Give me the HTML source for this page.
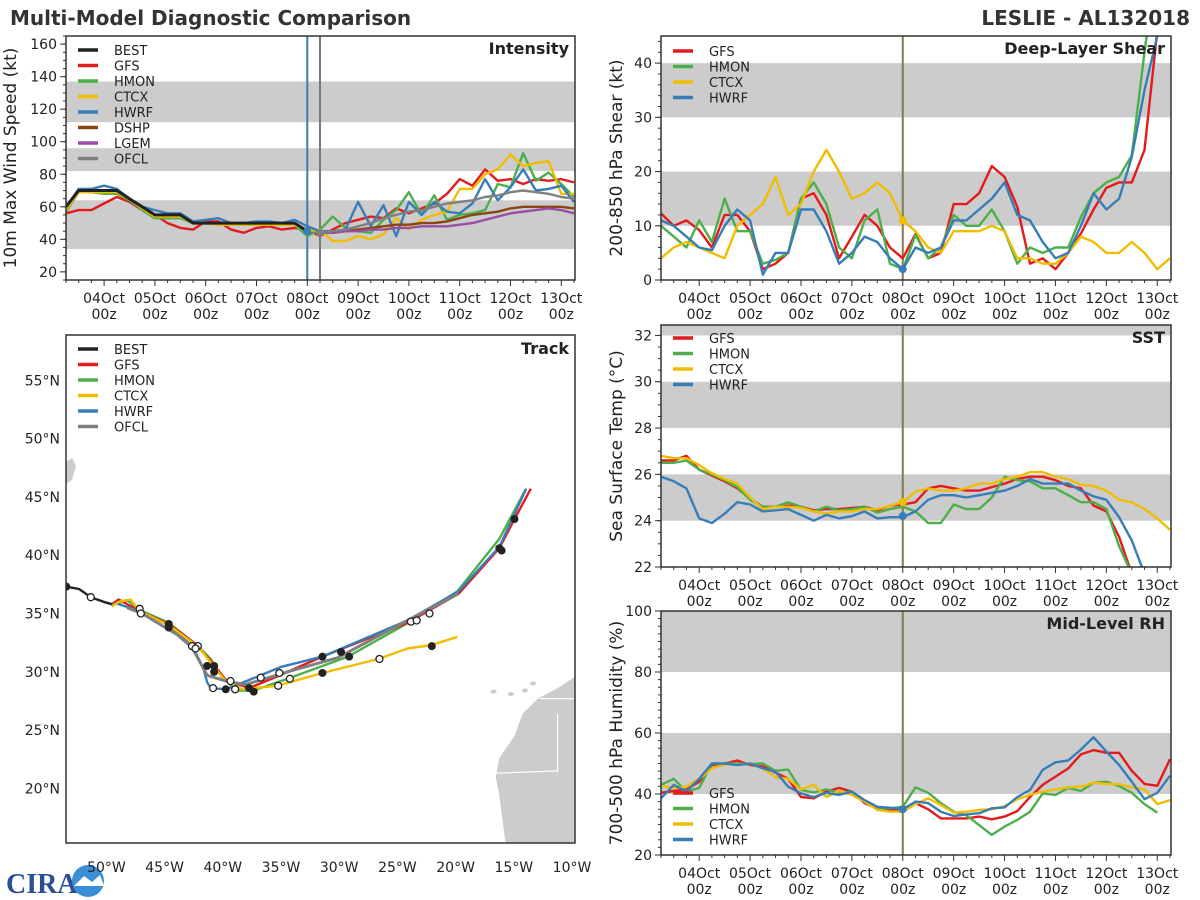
<!DOCTYPE html>
<html><head><meta charset="utf-8"><style>
html,body{margin:0;padding:0;background:#fff;}
svg{display:block;font-family:"DejaVu Sans","Liberation Sans",sans-serif;}
</style></head><body>
<svg id="root" width="1200" height="900" viewBox="0 0 1200 900" xmlns="http://www.w3.org/2000/svg">
<text x="10" y="25" font-size="20" font-weight="bold" fill="#333">Multi-Model Diagnostic Comparison</text>
<text x="1190" y="25" font-size="20" font-weight="bold" fill="#333" text-anchor="end">LESLIE - AL132018</text>
<g>
<text x="6" y="893" font-size="28" font-weight="bold" fill="#2a4f95" font-family="'Liberation Serif',serif">CIRA</text>
<circle cx="88" cy="881" r="16" fill="#3a8fd6"/>
<path d="M74 886 L84 876 L92 882 L100 875 L104 886 Z" fill="#fff"/>
</g>
</svg>
<script>
// ---------- time-series data (6-hourly, 03Oct 06z .. 13Oct 06z) ----------
const dayLabels = ["04Oct","05Oct","06Oct","07Oct","08Oct","09Oct","10Oct","11Oct","12Oct","13Oct"];
const intTicks = [20,40,60,80,100,120,140,160];
const shearTicks = [0,10,20,30,40];
const sstTicks = [22,24,26,28,30,32];
const rhTicks = [20,40,60,80,100];

const intBEST = [60,70,70,70,70,65,60,55,55,55,50,50,50,50,50,50,50,50,50,45];
const intGFS = [56,58,58,62,66,63,58,55,50,47,46,51,51,46,44,47,48,46,47,46,42,46,50,52,54,53,59,56,59,62,68,77,73,83,76,77,74,77,76,77,75];
const intHMON = [57,69,69,68,68,64,58,53,53,53,50,50,49,49,49,49,49,49,49,42,46,54,47,45,44,52,58,69,55,67,52,55,56,58,74,72,93,76,81,74,66];
const intCTCX = [58,69,69,69,69,65,59,54,54,54,50,50,49,49,49,49,49,49,49,45,46,39,39,42,40,43,53,46,52,55,57,71,71,80,83,92,85,87,88,68,68];
const intHWRF = [60,71,71,73,71,65,60,58,56,56,51,52,53,50,50,51,51,50,52,48,45,45,46,63,48,61,42,63,55,63,57,56,62,77,64,72,83,70,71,73,63];
const intDSHP = [null,null,null,null,null,null,null,null,null,null,null,null,null,null,null,null,null,null,null,null,44,44,45,46,47,48,49,49,50,50,51,53,55,56,57,59,60,60,60,60,59];
const intLGEM = [null,null,null,null,null,null,null,null,null,null,null,null,null,null,null,null,null,null,null,null,44,44,45,45,46,46,47,47,48,48,48,49,50,52,54,56,57,58,59,58,56];
const intOFCL = [null,null,null,null,null,null,null,null,null,null,null,null,null,null,null,null,null,null,null,null,44,45,46,48,50,53,55,57,58,60,62,63,64,66,67,69,70,69,68,66,65];

const shGFS = [12.3,10,11,9.2,6,12,12,9,2,3,5,15,16,12,4,8,12,10,6,4,8.5,4,5,14,14,16,21,19,13.5,3,4,2,5,8.6,13,17,18,18,24,46,60];
const shHMON = [10,8,6,11,7,15,9,9,3,3.7,5,15,18,14,6,4,11,13,3,2,8.3,4,6,12,10,10,13,9,3,6,5,6,6,11.6,16,18,19,23,42,60,70];
const shCTCX = [4,6,7,6,5,4,10,12,14,19,12,14,20,24,20,15,16,18,16,11,9,6,5,9,9,9,10,9,4,4,3,3,5,8,7,5,5,7,5,2,4];
const shHWRF = [11,10,8,6,5.5,10,13,11,1,5,5,13,13,9,3,5,8,7,4,2,6,5,6,11,11,13,15,18,12,11,7,4,5,10,16,13,15,22.7,35,45,60];

const sstGFS = [26.6,26.6,26.8,26.2,25.95,25.7,25.4,24.95,24.6,24.6,24.65,24.6,24.45,24.5,24.5,24.55,24.6,24.45,24.65,24.7,24.8,25.4,25.5,25.4,25.3,25.3,25.45,25.6,25.8,25.9,25.9,25.75,25.5,25.4,24.65,24.4,23.3,21.7];
const sstHMON = [26.5,26.5,26.6,26.2,26,25.75,25.45,24.9,24.6,24.6,24.8,24.6,24.4,24.6,24.45,24.5,24.6,24.35,24.5,24.6,24.4,23.9,23.9,24.7,24.5,24.5,25,25.9,25.75,25.7,25.4,25.4,25.1,24.8,24.8,24.5,22.9,21.7];
const sstCTCX = [26.8,26.7,26.7,26.4,26.05,25.8,25.6,25,24.5,24.6,24.6,24.55,24.4,24.3,24.4,24.4,24.5,24.5,24.65,24.8,25.25,25.4,25.3,25.3,25.4,25.6,25.6,25.8,25.9,26.1,26.1,25.9,25.8,25.55,25.5,25.3,24.9,24.8,24.5,24.1,23.6];
const sstHWRF = [25.9,25.7,25.4,24.1,23.9,24.3,24.8,24.7,24.4,24.45,24.5,24.25,24,24.25,24.1,24.2,24.4,24.1,24.15,24.15,24.4,24.9,25.1,25.1,25,25.1,25.2,25.3,25.5,25.8,25.6,25.6,25.6,25.3,25.05,24.9,24.15,23.15,21.7];

const rhGFS = [40.4,41,41.5,44,49.5,50,51,49.5,49,47,45,39,38.6,40.8,42,40.8,37,35.3,35,35,37,35,32,32,32,32.6,31.7,32.6,34.4,39,43,45.7,48.4,53,54.4,53.5,53.5,47.6,43.3,42.7,51.4];
const rhHMON = [43,45,40.8,42,50,50,50,49.8,50,47.6,48,41.3,40.5,41.5,40.4,40.8,37.5,35.3,35.3,35.8,42.2,40.4,37,34.2,33,29.8,26.6,29.3,31.5,34.2,40.2,39.7,42,41,43.7,44,42.6,40.4,36.7,33.9];
const rhCTCX = [42.6,42,42.4,45,48.4,49.7,49.7,50,48.4,45.5,45,41.5,43,39,41,39.7,37.5,34.8,34.2,34.2,36.7,38.6,36.4,33.9,34.2,34.8,35,36,38.3,39.7,40.8,41.5,42.2,42.4,43.7,43.3,43.2,42.2,41.5,36.7,38];
const rhHWRF = [38.6,43,40.8,45,50,50,49.5,50,48.4,47.3,42.4,40.2,39,40.4,39.7,40.8,38,35.8,35.5,35,37.5,37,34.2,32.8,33.3,33.7,35.3,35.6,39,41.3,47.9,50.4,51,54.6,58.6,53.9,49.5,44,38.3,40.4,46];

// ---------- track data (deg W, deg N) ----------
const trkBESTlon = [53.7,52.6,51.6,50.5,49.8];
const trkBESTlat = [37.3,37.1,36.4,36.0,35.8];
const trkGFSlon = [49.8,49.2,47.4,44.9,42.6,41.1,40.0,38.0,35.6,31.7,29.7,24.4,20.0,16.5,15.2,13.8];
const trkGFSlat = [35.8,36.2,35.2,34.1,32.4,30.7,29.3,28.6,29.6,31.3,32.1,34.2,36.7,40.6,43.1,45.7];
const trkHMONlon = [49.8,48.4,47.4,44.9,42.4,41.3,40.3,39.0,37.6,34.7,29.5,23.8,20.1,16.5,14.2];
const trkHMONlat = [35.8,36.1,35.3,34.2,32.2,31.1,29.5,28.4,28.4,29.4,31.3,34.5,36.9,41.4,45.7];
const trkHWRFlon = [49.8,49.5,47.4,44.9,42.8,41.9,41.6,41.3,40.0,38.0,35.3,31.7,24.4,20.0,16.5,14.2];
const trkHWRFlat = [35.6,35.9,35.2,34.0,32.1,30.2,29.1,28.6,28.5,29.3,30.4,31.3,34.4,36.9,40.7,45.7];
const trkCTCXlon = [49.8,49.2,48.2,47.4,44.9,42.3,41.0,40.0,38.6,35.6,31.7,26.9,24.4,22.3,20.1];
const trkCTCXlat = [35.6,36.0,36.2,35.2,34.0,32.1,30.4,29.2,28.5,28.8,29.9,31.1,32.0,32.3,33.0];
const trkOFCLlon = [48.5,47.2,44.2,42.9,41.6,40.0,38.3,34.7,30.4,24.4,20.0];
const trkOFCLlat = [35.5,35.0,33.2,32.1,29.7,29.2,28.9,30.0,31.2,34.4,36.7];
const mkFilledLon = [53.7,44.9,44.9,41.6,41.0,41.0,40.0,38.0,37.6,31.7,31.7,30.1,29.4,22.3,16.5,16.3,15.2];
const mkFilledLat = [37.3,34.1,33.8,30.5,30.5,30.0,28.5,28.6,28.3,31.3,29.9,31.7,31.3,32.2,40.6,40.4,43.1];
const mkOpenLon = [51.6,47.4,47.3,42.9,42.4,42.6,41.1,39.6,39.2,37.0,35.4,35.5,34.5,26.8,24.1,23.6,22.5];
const mkOpenLat = [36.4,35.4,35.0,32.2,32.2,32.0,28.6,29.2,28.5,29.5,29.9,28.8,29.4,31.1,34.3,34.4,35.0];
const trkLatTicks = [20,25,30,35,40,45,50,55];
const trkLonTicks = [50,45,40,35,30,25,20,15,10];

const C = {BEST:"#222222",GFS:"#e41a1c",HMON:"#4daf4a",CTCX:"#f0bd00",HWRF:"#377eb8",DSHP:"#8b4513",LGEM:"#984ea3",OFCL:"#808080"};
const NS = "http://www.w3.org/2000/svg";
const root = document.getElementById('root');
function el(tag, attrs, parent){ const e=document.createElementNS(NS,tag); for(const k in attrs) e.setAttribute(k,attrs[k]); (parent||root).appendChild(e); return e; }
let clipN=0;

function panel(P){
  const g = el('g',{});
  
  
  const X0=P.x0,X1=P.x1,Y0=P.y0,Y1=P.y1;
  const tx = t => X0 + (t - (-0.75)) / (10.02) * (X1-X0);
  const ty = v => Y1 - (v-P.ymin)/(P.ymax-P.ymin)*(Y1-Y0);
  el('rect',{x:X0,y:Y0,width:X1-X0,height:Y1-Y0,fill:'#fff'},g);
  const cid='c'+(clipN++);
  const cp=el('clipPath',{id:cid},g); el('rect',{x:X0,y:Y0,width:X1-X0,height:Y1-Y0},cp);
  const inner=el('g',{'clip-path':'url(#'+cid+')'},g);
  P.bands.forEach(b=>{
    const r=el('rect',{x:X0,y:ty(Math.min(b[1],P.ymax)),width:X1-X0,height:ty(Math.max(b[0],P.ymin))-ty(Math.min(b[1],P.ymax)),fill:'#cccccc'},inner);
    
    
  });
  P.vlines.forEach(v=>{
    const l=el('line',{x1:tx(v[0]),x2:tx(v[0]),y1:Y0,y2:Y1,stroke:v[1],'stroke-width':2},inner);
    
    
  });
  P.series.forEach(s=>{
    let d='',pen=false;
    s.data.forEach((v,i)=>{ if(v==null){pen=false;return;} const t=-0.75+i*0.25; d+=(pen?'L':'M')+tx(t).toFixed(1)+' '+ty(v).toFixed(1); pen=true; });
    const p=el('path',{d:d,fill:'none',stroke:C[s.key],'stroke-width':s.w||2.4,'stroke-linejoin':'round'},inner);
    
    
  });
  (P.dots||[]).forEach(dt=>{
    const c=el('circle',{cx:tx(dt[0]),cy:ty(dt[1]),r:4,fill:C[dt[2]]},inner);
    
    
  });
  el('rect',{x:X0,y:Y0,width:X1-X0,height:Y1-Y0,fill:'none',stroke:'#333','stroke-width':1.5},g);
  for(let i=0;i<=40;i++){ const t=-0.75+i*0.25; const x=tx(t); const major=Math.abs(t-Math.round(t))<1e-6;
    el('line',{x1:x,x2:x,y1:Y1,y2:Y1+(major?6:3),stroke:'#333','stroke-width':1},g); }
  dayLabels.forEach((lab,i)=>{ const x=tx(i);
    const a=el('text',{x:x,y:Y1+23,'font-size':14,'text-anchor':'middle',fill:'#222'},g); a.textContent=lab;
    
    
    const b=el('text',{x:x,y:Y1+39,'font-size':14,'text-anchor':'middle',fill:'#222'},g); b.textContent='00z';
    
    
  });
  for(let v=P.ymin-((P.ymin%P.minor)+P.minor)%P.minor; v<=P.ymax; v+=P.minor){ if(v<P.ymin) continue; el('line',{x1:X0-3,x2:X0,y1:ty(v),y2:ty(v),stroke:'#333'},g); }
  P.ticks.forEach(v=>{ el('line',{x1:X0-6,x2:X0,y1:ty(v),y2:ty(v),stroke:'#333'},g);
    const t=el('text',{x:X0-9,y:ty(v)+5,'font-size':14,'text-anchor':'end',fill:'#222'},g); t.textContent=v;
    
    
  });
  const yl=el('text',{x:0,y:0,'font-size':17,'text-anchor':'middle',fill:'#222',transform:'translate('+P.ylx+','+((Y0+Y1)/2)+') rotate(-90)'},g); yl.textContent=P.ylabel;
  
  
  const tt=el('text',{x:X1-6,y:Y0+18,'font-size':16,'font-weight':'bold','text-anchor':'end',fill:'#222'},g); tt.textContent=P.title;
  
  
  legend(g,X0,P.legY||Y0+14,P.legend);
}
function legend(g,X0,y,keys){
  const lg=el('g',{},g);
  
  
  keys.forEach((k,i)=>{ const yy=y+i*15.5;
    el('line',{x1:X0+12,x2:X0+32,y1:yy,y2:yy,stroke:C[k],'stroke-width':3.5},lg);
    const t=el('text',{x:X0+48,y:yy+5,'font-size':13,fill:'#222'},lg); t.textContent=k;
    
    
  });
}

panel({name:'intensity-panel',x0:66,x1:575,y0:36,y1:280,ymin:15,ymax:165,ticks:intTicks,minor:5,ylx:16,ylabel:'10m Max Wind Speed (kt)',title:'Intensity',
  bands:[[34,64],[82,96],[112,137]],vlines:[[4,'#377eb8'],[4.25,'#777']],
  series:[{key:'GFS',data:intGFS},{key:'HMON',data:intHMON},{key:'CTCX',data:intCTCX},{key:'HWRF',data:intHWRF},{key:'DSHP',data:intDSHP},{key:'LGEM',data:intLGEM},{key:'OFCL',data:intOFCL},{key:'BEST',data:intBEST,w:3}],
  dots:[[4,45,'HWRF'],[4.25,44,'OFCL']],
  legend:['BEST','GFS','HMON','CTCX','HWRF','DSHP','LGEM','OFCL'],legY:50});
panel({name:'shear-panel',x0:661,x1:1171,y0:36,y1:280,ymin:0,ymax:45,ticks:shearTicks,minor:2,ylx:622,ylabel:'200-850 hPa Shear (kt)',title:'Deep-Layer Shear',
  bands:[[10,20],[30,40]],vlines:[[4,'#857c4a']],
  series:[{key:'GFS',data:shGFS},{key:'HMON',data:shHMON},{key:'CTCX',data:shCTCX},{key:'HWRF',data:shHWRF}],
  dots:[[4,11,'CTCX'],[4,2,'HWRF']],legend:['GFS','HMON','CTCX','HWRF'],legY:51});
panel({name:'sst-panel',x0:661,x1:1171,y0:325,y1:567,ymin:22,ymax:32.45,ticks:sstTicks,minor:0.5,ylx:622,ylabel:'Sea Surface Temp (°C)',title:'SST',
  bands:[[24,26],[28,30],[32,40]],vlines:[[4,'#857c4a']],
  series:[{key:'GFS',data:sstGFS},{key:'HMON',data:sstHMON},{key:'CTCX',data:sstCTCX},{key:'HWRF',data:sstHWRF}],
  dots:[[4,24.8,'CTCX'],[4,24.2,'HWRF']],legend:['GFS','HMON','CTCX','HWRF'],legY:338});
panel({name:'rh-panel',x0:661,x1:1171,y0:611,y1:855,ymin:20,ymax:100,ticks:rhTicks,minor:2.5,ylx:622,ylabel:'700-500 hPa Humidity (%)',title:'Mid-Level RH',
  bands:[[40,60],[80,100]],vlines:[[4,'#857c4a']],
  series:[{key:'GFS',data:rhGFS},{key:'HMON',data:rhHMON},{key:'CTCX',data:rhCTCX},{key:'HWRF',data:rhHWRF}],
  dots:[[4,35,'HWRF']],legend:['GFS','HMON','CTCX','HWRF'],legY:793});

(function(){
  const X0=66,X1=575,Y0=335,Y1=843;
  const lx = w => 575 - (w-10)*11.64;
  const ly = n => 788.4 - (n-20)*11.66;
  const g=el('g',{});
  
  
  el('rect',{x:X0,y:Y0,width:X1-X0,height:Y1-Y0,fill:'#fff'},g);
  const cp=el('clipPath',{id:'trkclip'},g); el('rect',{x:X0,y:Y0,width:X1-X0,height:Y1-Y0},cp);
  const inner=el('g',{'clip-path':'url(#trkclip)'},g);
  const africaLon=[9.8,11.5,13.2,14.5,15.2,16.5,16.8,16.5,16.2,15.8,5,5];
  const africaLat=[29.7,28.6,27.7,26.4,24.5,22.6,21.0,19.4,17.1,14.0,14.0,29.7];
  let d=''; africaLon.forEach((w,i)=>{ d+=(i?'L':'M')+lx(w).toFixed(1)+' '+ly(africaLat[i]).toFixed(1); });
  const af=el('path',{d:d+'Z',fill:'#cccccc',stroke:'none'},inner);
  
  
  el('path',{d:'M'+lx(10)+' '+ly(27.7)+' L'+lx(13)+' '+ly(27.7)+' M'+lx(11.5)+' '+ly(26.4)+' L'+lx(11.5)+' '+ly(21.5)+' L'+lx(17)+' '+ly(21.3),stroke:'#fff','stroke-width':1.2,fill:'none'},inner);
  const nf=el('path',{d:'M66 462 L72 458 L76 466 L72 480 L66 484 Z',fill:'#cccccc'},inner);
  
  
  [[17,28.3],[15.5,28.1],[14.3,28.4],[13.6,29]].forEach(p=>{ el('ellipse',{cx:lx(p[0]),cy:ly(p[1]),rx:3,ry:2,fill:'#ccc'},inner); });
  const tracks=[['HMON',trkHMONlon,trkHMONlat],['GFS',trkGFSlon,trkGFSlat],['HWRF',trkHWRFlon,trkHWRFlat],['CTCX',trkCTCXlon,trkCTCXlat],['OFCL',trkOFCLlon,trkOFCLlat],['BEST',trkBESTlon,trkBESTlat]];
  tracks.forEach(tr=>{ let d=''; tr[1].forEach((w,i)=>{ d+=(i?'L':'M')+lx(w).toFixed(1)+' '+ly(tr[2][i]).toFixed(1); });
    const p=el('path',{d:d,fill:'none',stroke:C[tr[0]],'stroke-width':tr[0]=='OFCL'?3:2.4,'stroke-linejoin':'round'},inner);
    
    
  });
  mkFilledLon.forEach((w,i)=>{ const c=el('circle',{cx:lx(w),cy:ly(mkFilledLat[i]),r:4,fill:'#222'},inner);
    
     });
  mkOpenLon.forEach((w,i)=>{ const c=el('circle',{cx:lx(w),cy:ly(mkOpenLat[i]),r:3.5,fill:'#fff',stroke:'#222','stroke-width':1.3},inner);
    
     });
  el('rect',{x:X0,y:Y0,width:X1-X0,height:Y1-Y0,fill:'none',stroke:'#333','stroke-width':1.5},g);
  trkLatTicks.forEach(n=>{ const t=el('text',{x:60,y:ly(n)+5,'font-size':14,'text-anchor':'end',fill:'#222'},g); t.textContent=n+'°N';
    
     });
  trkLonTicks.forEach(w=>{ const t=el('text',{x:lx(w)-3,y:872,'font-size':14,'text-anchor':'middle',fill:'#222'},g); t.textContent=w+'°W';
    
     });
  const tt=el('text',{x:X1-6,y:Y0+19,'font-size':16,'font-weight':'bold','text-anchor':'end',fill:'#222'},g); tt.textContent='Track';
  
  
  legend(g,X0,349,['BEST','GFS','HMON','CTCX','HWRF','OFCL']);
})();
</script>
</body></html>
